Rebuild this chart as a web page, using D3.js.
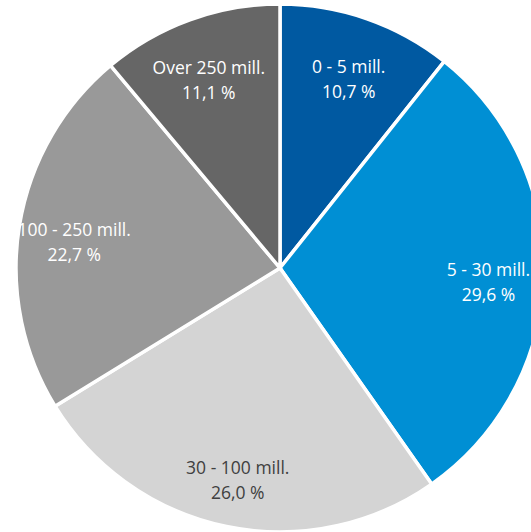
<!DOCTYPE html>
<html>
<head>
<meta charset="utf-8">
<script src="https://cdn.jsdelivr.net/npm/d3@7"></script>
<style>
  body { margin: 0; background: #fff; }
  svg { display: block; }
</style>
</head>
<body>
<svg id="pie"></svg>
<script>
// Share of something by size band (in mill.)
const categories = ['0 - 5 mill.', '5 - 30 mill.', '30 - 100 mill.', '100 - 250 mill.', 'Over 250 mill.'];
const shares = [10.7, 29.6, 26.0, 22.7, 11.1];
const colors = ['#0059a1', '#008fd4', '#d4d4d4', '#999999', '#666666'];
const labelColors = ['#ffffff', '#ffffff', '#404040', '#ffffff', '#ffffff'];

const width = 531, height = 532;
const cx = 280, cy = 268;
const radius = 264;

const svg = d3.select("#pie")
    .attr("width", width)
    .attr("height", height);

const g = svg.append("g")
    .attr("transform", `translate(${cx},${cy})`);

const data = categories.map((c, i) => ({ name: c, value: shares[i], color: colors[i], text: labelColors[i] }));

const pie = d3.pie()
    .sort(null)
    .value(d => d.value);

const arc = d3.arc()
    .innerRadius(0)
    .outerRadius(radius);

const labelArc = d3.arc()
    .innerRadius(radius * 0.79)
    .outerRadius(radius * 0.79);

const arcs = pie(data);

g.selectAll("path")
    .data(arcs)
    .enter()
    .append("path")
    .attr("d", arc)
    .attr("fill", d => d.data.color)
    .attr("stroke", "#ffffff")
    .attr("stroke-width", 3.5)
    .attr("stroke-linejoin", "miter");

// Labels: category + percentage, two lines
const labels = g.selectAll(".label")
    .data(arcs)
    .enter()
    .append("text")
    .attr("class", "label")
    .attr("transform", d => {
        const [x, y] = labelArc.centroid(d);
        return `translate(${x},${y})`;
    })
    .attr("text-anchor", "middle")
    .style("font-family", "'Open Sans', sans-serif")
    .style("font-size", "17.5px")
    .attr("fill", d => d.data.text);

labels.append("tspan")
    .attr("x", 0)
    .attr("dy", "0.1em")
    .text(d => d.data.name);

labels.append("tspan")
    .attr("x", 0)
    .attr("dy", "1.42em")
    .text(d => d.data.value.toFixed(1).replace('.', ',') + ' %');
</script>
</body>
</html>
